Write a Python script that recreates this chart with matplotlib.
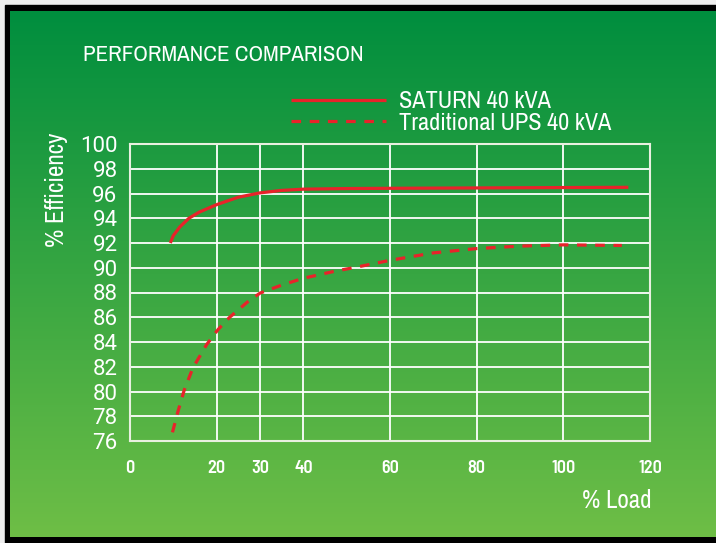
import numpy as np
import matplotlib
matplotlib.use("Agg")
import matplotlib.pyplot as plt
from matplotlib.patches import Rectangle

plt.rcParams['font.family'] = ['Archivo Narrow', 'Barlow Semi Condensed', 'DejaVu Sans']
plt.rcParams['font.weight'] = 'normal'

# values
saturn_load = [9.3, 10, 11.5, 13.6, 16, 20, 25, 30, 35, 40, 50, 60, 80, 100, 115]
saturn_eff = [92.0, 92.6, 93.3, 94.0, 94.5, 95.1, 95.7, 96.05, 96.25, 96.35,
              96.4, 96.42, 96.45, 96.48, 96.5]

trad_load = [9.8, 11, 12.5, 14.5, 17.7, 20.3, 23, 27, 30, 35, 40, 47, 53,
             60, 70, 80, 90, 100, 113.5]
trad_eff = [76.7, 78.3, 80.1, 81.9, 83.8, 85.0, 86.0, 87.2, 87.95, 88.6, 89.15,
            89.7, 90.1, 90.6, 91.2, 91.55, 91.75, 91.85, 91.8]

x_ticks = [0, 20, 30, 40, 60, 80, 100, 120]
y_ticks = list(range(76, 101, 2))

W, H = 716, 543
fig = plt.figure(figsize=(W / 100, H / 100), dpi=100, facecolor='#eeeeee')

# background: black frame + green gradient
bg = fig.add_axes([0, 0, 1, 1], zorder=0)
bg.add_patch(Rectangle((5, 5), W, H, color='black', zorder=0))
top = np.array([0, 142, 62]) / 255
bottom = np.array([110, 190, 70]) / 255
t = np.linspace(0, 1, 256)[:, None]
grad = (top * (1 - t) + bottom * t)[:, None, :]
bg.imshow(grad, extent=(10, W, 537, 11), aspect='auto', interpolation='bilinear',
          zorder=1)
bg.set_xlim(0, W)
bg.set_ylim(H, 0)
bg.axis('off')

ax = fig.add_axes([130 / W, 1 - 441 / H, 520 / W, 297 / H], zorder=1)
ax.patch.set_alpha(0)

red = '#e8232a'
ax.plot(saturn_load, saturn_eff, color=red, lw=2.3, solid_capstyle='butt',
        label='SATURN 40 kVA', zorder=3)
ax.plot(trad_load, trad_eff, color=red, lw=2.3, dashes=(3.0, 2.7),
        label='Traditional UPS 40 kVA', zorder=3)

ax.set_xlim(0, 120)
ax.set_ylim(76, 100)
ax.set_xticks(x_ticks)
ax.set_yticks(y_ticks)
ax.grid(True, color='white', lw=1.3)
for s in ax.spines.values():
    s.set_color('#e8f0e0')
    s.set_linewidth(1.5)
ax.tick_params(length=0)
ax.set_xticklabels([str(v) for v in x_ticks], color='white', fontsize=13,
                   fontweight='semibold', family='Barlow Semi Condensed')
ax.set_yticklabels([str(v) for v in y_ticks], color='white', fontsize=16,
                   fontweight='normal', family=['Roboto', 'DejaVu Sans'])
ax.tick_params(axis='x', pad=14)
ax.tick_params(axis='y', pad=9)

fig.text(83 / W, 1 - 55 / H, 'PERFORMANCE COMPARISON', color='white',
         fontsize=16.5, va='center', ha='left')
fig.text(56 / W, 1 - 190 / H, '% Efficiency', color='white', fontsize=18,
         rotation=90, va='center', ha='center')
fig.text(652 / W, 1 - 500 / H, '% Load', color='white', fontsize=18,
         va='center', ha='right')

leg = ax.legend(loc='upper left', bbox_to_anchor=(291 / W, 1 - 91 / H),
                bbox_transform=fig.transFigure, frameon=False, fontsize=17.5,
                handlelength=3.9, handletextpad=0.55, labelspacing=0.02,
                borderpad=0, borderaxespad=0)
for txt in leg.get_texts():
    txt.set_color('white')

fig.savefig('out.png', dpi=100, facecolor=fig.get_facecolor())
